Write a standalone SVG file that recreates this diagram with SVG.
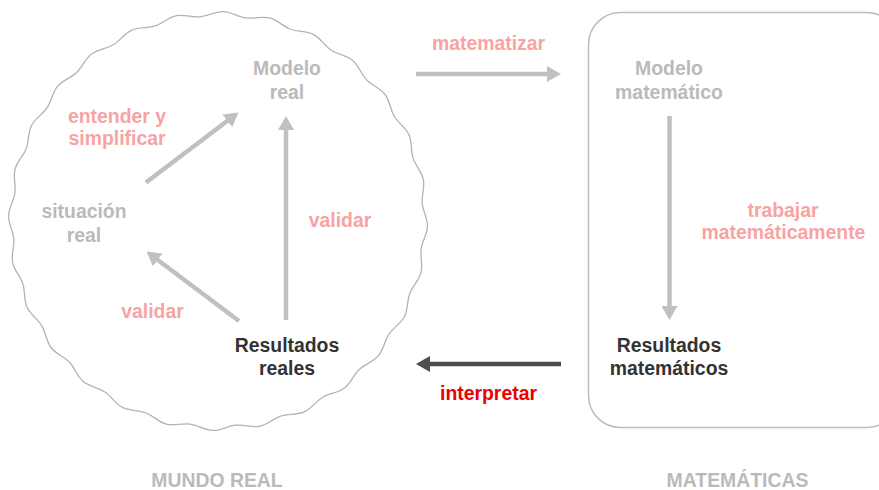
<svg xmlns="http://www.w3.org/2000/svg" xmlns:xlink="http://www.w3.org/1999/xlink" width="879" height="490" viewBox="0 0 879 490">
<style>
text{font-family:"Liberation Sans",Arial,sans-serif;font-weight:bold;font-size:19.4px;text-anchor:middle}
.g{fill:#bababa}
.p{fill:#f8a3a3}
.d{fill:#333333}
.r{fill:#ee0000}
.ln{stroke:#c0c0c0;stroke-width:4.5;fill:none}
.dk{stroke:#4d4d4d;stroke-width:4.5;fill:none}
.wave{stroke:#b3b3b3;stroke-width:1.3;fill:none}
</style>
<defs>
<marker id="ah" viewBox="0 0 14 16" refX="4" refY="8" markerWidth="14" markerHeight="16" markerUnits="userSpaceOnUse" orient="auto">
<path d="M0,0 L14,8 L0,16 Z" fill="#c0c0c0"/>
</marker>
<marker id="ahd" viewBox="0 0 14 16" refX="4" refY="8" markerWidth="14" markerHeight="16" markerUnits="userSpaceOnUse" orient="auto">
<path d="M0,0 L14,8 L0,16 Z" fill="#4d4d4d"/>
</marker>
<path id="seg" class="wave" d="M-22.95,-203.71 C-14.6,-204.65 -8.4,-209.5 0,-209.5 C8.4,-209.5 14.6,-204.65 22.95,-203.71"/>
</defs>

<g id="mundo-real">
<g transform="translate(218,221)">
<use xlink:href="#seg" transform="rotate(1.43)"/>
<use xlink:href="#seg" transform="rotate(14.29)"/>
<use xlink:href="#seg" transform="rotate(27.14)"/>
<use xlink:href="#seg" transform="rotate(40)"/>
<use xlink:href="#seg" transform="rotate(52.86)"/>
<use xlink:href="#seg" transform="rotate(65.71)"/>
<use xlink:href="#seg" transform="rotate(78.57)"/>
<use xlink:href="#seg" transform="rotate(91.43)"/>
<use xlink:href="#seg" transform="rotate(104.29)"/>
<use xlink:href="#seg" transform="rotate(117.14)"/>
<use xlink:href="#seg" transform="rotate(130)"/>
<use xlink:href="#seg" transform="rotate(142.86)"/>
<use xlink:href="#seg" transform="rotate(155.71)"/>
<use xlink:href="#seg" transform="rotate(168.57)"/>
<use xlink:href="#seg" transform="rotate(181.43)"/>
<use xlink:href="#seg" transform="rotate(194.29)"/>
<use xlink:href="#seg" transform="rotate(207.14)"/>
<use xlink:href="#seg" transform="rotate(220)"/>
<use xlink:href="#seg" transform="rotate(232.86)"/>
<use xlink:href="#seg" transform="rotate(245.71)"/>
<use xlink:href="#seg" transform="rotate(258.57)"/>
<use xlink:href="#seg" transform="rotate(271.43)"/>
<use xlink:href="#seg" transform="rotate(284.29)"/>
<use xlink:href="#seg" transform="rotate(297.14)"/>
<use xlink:href="#seg" transform="rotate(310)"/>
<use xlink:href="#seg" transform="rotate(322.86)"/>
<use xlink:href="#seg" transform="rotate(335.71)"/>
<use xlink:href="#seg" transform="rotate(348.57)"/>
</g>
<text class="g" x="217" y="487">MUNDO REAL</text>
</g>

<g id="matematicas">
<rect x="588.5" y="12.5" width="310" height="415" rx="32" ry="32" fill="none" stroke="#bdbdbd" stroke-width="1.5"/>
<text class="g" x="737.5" y="487">MATEMÁTICAS</text>
</g>

<g id="modelo-real"><text class="g" x="287" y="75">Modelo</text><text class="g" x="287" y="99">real</text></g>
<g id="situacion-real"><text class="g" x="84" y="218">situación</text><text class="g" x="84" y="242">real</text></g>
<g id="resultados-reales"><text class="d" x="287" y="352">Resultados</text><text class="d" x="287" y="375">reales</text></g>
<g id="modelo-matematico"><text class="g" x="669" y="75">Modelo</text><text class="g" x="669" y="99">matemático</text></g>
<g id="resultados-matematicos"><text class="d" x="669" y="352">Resultados</text><text class="d" x="669" y="375">matemáticos</text></g>

<g id="connectors">
<line class="ln" x1="146" y1="182.5" x2="230.5" y2="118.5" marker-end="url(#ah)"/>
<line class="ln" x1="286" y1="320" x2="286" y2="126" marker-end="url(#ah)"/>
<line class="ln" x1="239" y1="321" x2="154.5" y2="257.5" marker-end="url(#ah)"/>
<line class="ln" x1="416" y1="74" x2="551" y2="74" marker-end="url(#ah)"/>
<line class="ln" x1="669.5" y1="116" x2="669.5" y2="310" marker-end="url(#ah)"/>
<line class="dk" x1="561" y1="364" x2="426" y2="364" marker-end="url(#ahd)"/>
<text class="p" x="117" y="123">entender y</text>
<text class="p" x="117" y="145">simplificar</text>
<text class="p" x="340" y="227">validar</text>
<text class="p" x="152.5" y="318">validar</text>
<text class="p" x="488.5" y="50">matematizar</text>
<text class="p" x="783" y="217">trabajar</text>
<text class="p" x="783.5" y="239">matemáticamente</text>
<text class="r" x="488.5" y="400">interpretar</text>
</g>
</svg>
